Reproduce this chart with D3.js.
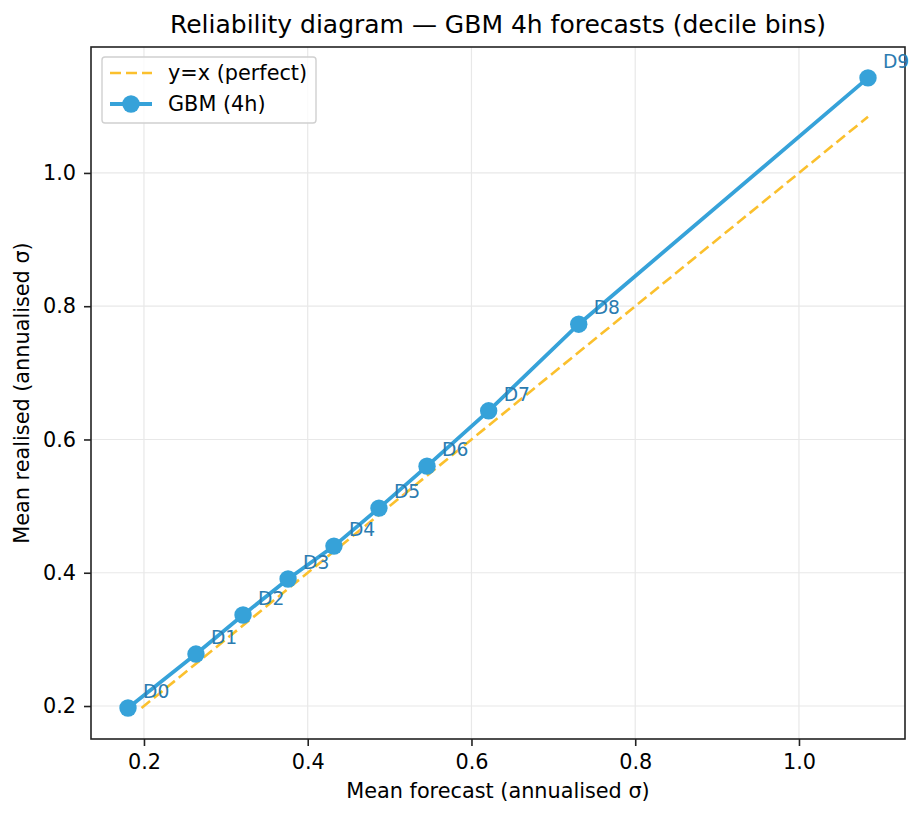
<!DOCTYPE html>
<html>
<head>
<meta charset="utf-8">
<script src="https://cdn.jsdelivr.net/npm/d3@7"></script>
<style>
  body { margin: 0; background: #fff; }
  text { font-family: "DejaVu Sans", sans-serif; }
</style>
</head>
<body>
<div id="chart"></div>
<script>
// data
const binLabels = ["D0", "D1", "D2", "D3", "D4", "D5", "D6", "D7", "D8", "D9"];
const meanForecast = [0.1805, 0.2635, 0.321, 0.376, 0.432, 0.487, 0.5457, 0.621, 0.731, 1.0843];
const meanRealised = [0.197, 0.278, 0.3366, 0.3906, 0.440, 0.497, 0.560, 0.643, 0.773, 1.1426];
const xTicks = [0.2, 0.4, 0.6, 0.8, 1.0];
const yTicks = [0.2, 0.4, 0.6, 0.8, 1.0];

const W = 923, H = 817;
const margin = { top: 47, right: 18, bottom: 78, left: 91 };
const width = W - margin.left - margin.right,
    height = H - margin.top - margin.bottom;

const blue = "#36a2d9", yellow = "#fbc02d", labelBlue = "#2b7bb0";

const svg = d3.select("#chart")
    .append("svg")
    .attr("width", W)
    .attr("height", H);

const g = svg.append("g")
    .attr("transform", `translate(${margin.left},${margin.top})`);

const x = d3.scaleLinear().domain([0.1353, 1.1295]).range([0, width]);
const y = d3.scaleLinear().domain([0.1505, 1.189]).range([height, 0]);

// grid
g.selectAll(".gx").data(xTicks).join("line")
    .attr("x1", d => x(d)).attr("x2", d => x(d))
    .attr("y1", 0).attr("y2", height)
    .attr("stroke", "#e8e8e8").attr("stroke-width", 1.2);
g.selectAll(".gy").data(yTicks).join("line")
    .attr("x1", 0).attr("x2", width)
    .attr("y1", d => y(d)).attr("y2", d => y(d))
    .attr("stroke", "#e8e8e8").attr("stroke-width", 1.2);

// axes
const fmt = d => d.toFixed(1);
const xAxis = g.append("g")
    .attr("transform", `translate(0,${height})`)
    .call(d3.axisBottom(x).tickValues(xTicks).tickFormat(fmt).tickSizeOuter(0).tickSize(7).tickPadding(8));
const yAxis = g.append("g")
    .call(d3.axisLeft(y).tickValues(yTicks).tickFormat(fmt).tickSizeOuter(0).tickSize(7).tickPadding(8));
[xAxis, yAxis].forEach(a => {
    a.selectAll("text").style("font-size", "20.8px").attr("fill", "#000").style("font-family", "DejaVu Sans");
    a.selectAll("line").attr("stroke", "#222").attr("stroke-width", 1.6);
    a.select(".domain").remove();
});

// frame
g.append("rect")
    .attr("width", width).attr("height", height)
    .attr("fill", "none").attr("stroke", "#222").attr("stroke-width", 1.6);

// perfect line y=x
const lo = d3.min(meanRealised), hi = d3.max(meanForecast);
g.append("line")
    .attr("x1", x(lo)).attr("y1", y(lo))
    .attr("x2", x(hi)).attr("y2", y(hi))
    .attr("stroke", yellow).attr("stroke-width", 2.6)
    .attr("stroke-dasharray", "11,5");

// GBM line
const pts = meanForecast.map((f, i) => [f, meanRealised[i]]);
const line = d3.line().x(d => x(d[0])).y(d => y(d[1]));
g.append("path")
    .datum(pts)
    .attr("d", line)
    .attr("fill", "none")
    .attr("stroke", blue)
    .attr("stroke-width", 3.8);

g.selectAll(".pt").data(pts).join("circle")
    .attr("cx", d => x(d[0])).attr("cy", d => y(d[1]))
    .attr("r", 8.7)
    .attr("fill", blue);

// bin annotations
g.selectAll(".lab").data(pts).join("text")
    .attr("x", d => x(d[0]) + 15)
    .attr("y", d => y(d[1]) - 10)
    .attr("fill", labelBlue)
    .style("font-size", "18.7px")
    .text((d, i) => binLabels[i]);

// title & axis labels
svg.append("text")
    .attr("x", margin.left + width / 2).attr("y", 33)
    .attr("text-anchor", "middle")
    .style("font-size", "25px")
    .text("Reliability diagram — GBM 4h forecasts (decile bins)");
svg.append("text")
    .attr("x", margin.left + width / 2).attr("y", 798)
    .attr("text-anchor", "middle")
    .style("font-size", "20.8px")
    .text("Mean forecast (annualised σ)");
svg.append("text")
    .attr("transform", `translate(29,${margin.top + height / 2}) rotate(-90)`)
    .attr("text-anchor", "middle")
    .style("font-size", "20.8px")
    .text("Mean realised (annualised σ)");

// legend
const legend = g.append("g").attr("transform", "translate(11,10)");
legend.append("rect")
    .attr("width", 214).attr("height", 66).attr("rx", 3)
    .attr("fill", "#fff").attr("fill-opacity", 0.8)
    .attr("stroke", "#d0d0d0").attr("stroke-width", 1.4);
legend.append("line")
    .attr("x1", 8).attr("x2", 50).attr("y1", 16).attr("y2", 16)
    .attr("stroke", yellow).attr("stroke-width", 2.6).attr("stroke-dasharray", "11,5");
legend.append("text").attr("x", 66).attr("y", 23).style("font-size", "20.8px").text("y=x (perfect)");
legend.append("line")
    .attr("x1", 8).attr("x2", 50).attr("y1", 47).attr("y2", 47)
    .attr("stroke", blue).attr("stroke-width", 3.8);
legend.append("circle").attr("cx", 29).attr("cy", 47).attr("r", 8.7).attr("fill", blue);
legend.append("text").attr("x", 66).attr("y", 54).style("font-size", "20.8px").text("GBM (4h)");
</script>
</body>
</html>
